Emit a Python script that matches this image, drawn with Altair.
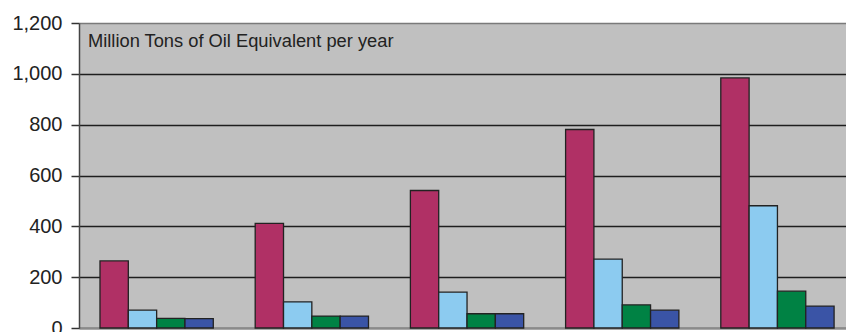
import altair as alt
import pandas as pd

# Five groups of four series, values in million tons of oil equivalent per year
groups = ["G1", "G2", "G3", "G4", "G5"]
series = ["S1", "S2", "S3", "S4"]
s1 = [264, 412, 541, 781, 984]
s2 = [70, 103, 141, 271, 481]
s3 = [38, 47, 56, 91, 145]
s4 = [37, 47, 56, 70, 86]
colors = ["#B03065", "#8CCBF0", "#008244", "#3A54A6"]
y_ticks = [0, 200, 400, 600, 800, 1000, 1200]

rows = []
for i, g in enumerate(groups):
    for s, vals in zip(series, [s1, s2, s3, s4]):
        rows.append({"group": g, "series": s, "value": vals[i]})
df = pd.DataFrame(rows)

bars = alt.Chart(df).mark_bar(stroke="#222222", strokeWidth=1.3).encode(
    x=alt.X(
        "group:N",
        sort=groups,
        scale=alt.Scale(paddingInner=0.27, paddingOuter=0.106, align=0.638),
        axis=alt.Axis(labels=False, ticks=False, title=None, domainColor="#8a8a8a",
                      domainWidth=2, grid=False),
    ),
    xOffset=alt.XOffset("series:N", sort=series,
                        scale=alt.Scale(paddingInner=0, paddingOuter=0)),
    y=alt.Y(
        "value:Q",
        scale=alt.Scale(domain=[0, 1200], nice=False),
        axis=alt.Axis(
            values=y_ticks, format=",d", title=None,
            labelFont="Liberation Sans", labelFontSize=20, labelColor="#222222",
            labelPadding=9, tickSize=8, tickColor="#333333", tickWidth=1.5,
            domainColor="#444444", domainWidth=1.5,
            grid=True,
            gridColor=alt.condition(alt.datum.value == 1200,
                                    alt.value("#7a7a7a"), alt.value("#1e1e1e")),
            gridWidth=1.5,
        ),
    ),
    color=alt.Color("series:N", sort=series,
                    scale=alt.Scale(domain=series, range=colors), legend=None),
)

note = alt.Chart(pd.DataFrame({"t": ["Million Tons of Oil Equivalent per year"]})).mark_text(
    align="left", baseline="alphabetic", font="Liberation Sans", fontSize=18.3,
    color="#222222",
).encode(x=alt.value(9), y=alt.value(24), text="t:N")

chart = (
    alt.layer(bars, note)
    .properties(
        width=767, height=305,
        autosize=alt.AutoSizeParams(type="none"),
        padding={"left": 79, "top": 23, "right": 0, "bottom": 4},
        background="white",
    )
    .configure_view(fill="#C0C0C0", stroke=None)
)

chart.save("out.html", embed_options={"renderer": "svg", "actions": False})
